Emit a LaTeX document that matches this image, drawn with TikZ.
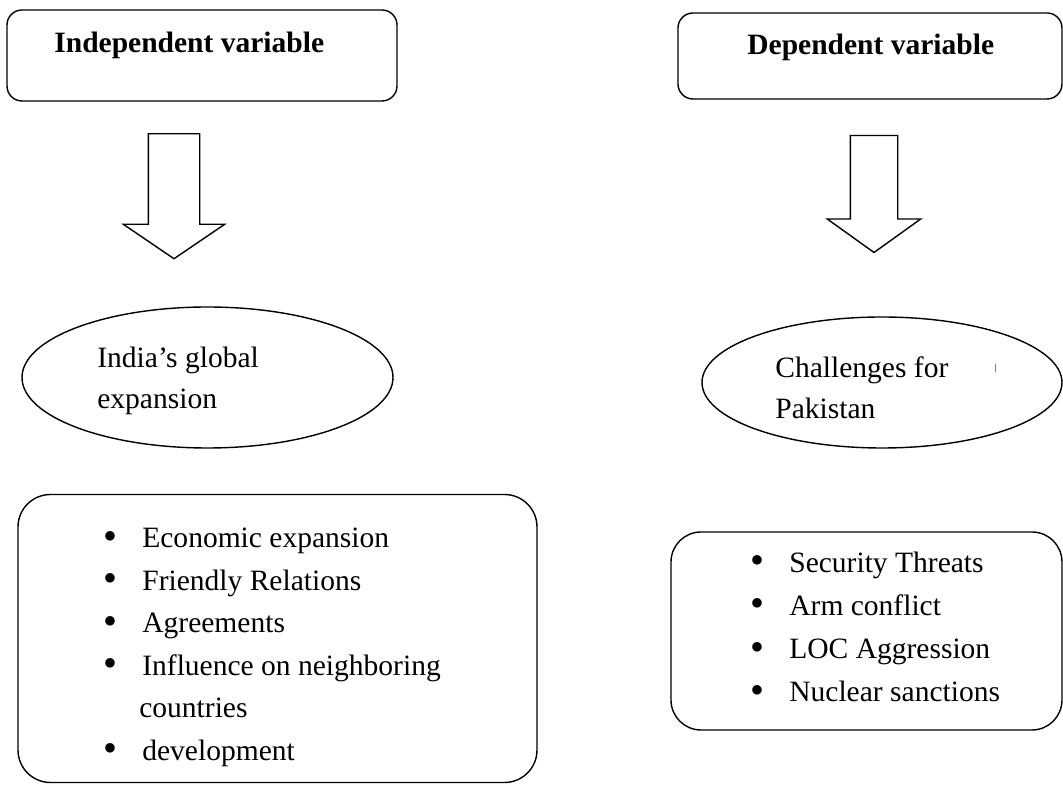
\documentclass[tikz,border=0pt]{standalone}
\usepackage{fontspec}
\setmainfont{Liberation Serif}
\usetikzlibrary{shapes}

\newcommand{\listdot}{\makebox[0.78cm][l]{\raisebox{-0.05em}{\scalebox{1.35}{\textbullet}}}}

\begin{document}
\begin{tikzpicture}[main/.style = {draw, line width=0.8pt, rounded corners=0.3cm},
                    listbox/.style = {draw, line width=0.8pt, rounded corners=0.65cm},
                    oval/.style = {draw, ellipse, line width=0.8pt},
                    head/.style = {anchor=west, inner sep=0pt, font=\fontsize{16.8}{20}\selectfont\bfseries},
                    txt/.style = {anchor=west, inner sep=0pt, align=left, font=\fontsize{16.8}{23}\selectfont},
                    items/.style = {anchor=west, inner sep=0pt, align=left, font=\fontsize{16.8}{24.2}\selectfont},
                    down/.style = {draw, single arrow, rotate=-90, inner xsep=0pt, line width=0.8pt}]
                \useasboundingbox (0, 0) rectangle (21.26, 15.7);

                % top boxes
                \node[main, minimum width=7.8cm, minimum height=1.82cm] at (4.04, 14.59) (indep) {};
                \node[head] at (1.08, 14.8) (indeptext) {Independent variable};
                \node[main, minimum width=7.68cm, minimum height=1.72cm] at (17.4, 14.58) (dep) {};
                \node[head] at (14.94, 14.76) (deptext) {Dependent variable};

                % arrows
                \node[down, inner ysep=0.5cm, minimum height=2.5cm, single arrow head extend=0.5cm,
                      single arrow tip angle=111.6] at (3.48, 11.95) (indeparrow) {};
                \node[down, inner ysep=0.46cm, minimum height=2.34cm, single arrow head extend=0.46cm,
                      single arrow tip angle=108.7] at (17.48, 11.99) (deparrow) {};

                % ellipses
                \node[oval, minimum width=7.42cm, minimum height=2.82cm] at (4.15, 8.15) (india) {};
                \node[txt] at (1.94, 8.08) (indiatext) {India’s global\\expansion};
                \node[oval, minimum width=7.2cm, minimum height=2.62cm] at (17.64, 8.05) (pak) {};
                \node[txt, font=\fontsize{16.8}{23.5}\selectfont] at (15.5, 7.95) (paktext) {Challenges for\\Pakistan};
                \draw[gray, line width=0.5pt] (19.9, 8.26) -- (19.9, 8.42);

                % lists
                \node[listbox, minimum width=10.38cm, minimum height=5.76cm] at (5.55, 2.93) (expansion) {};
                \node[items] at (2.06, 2.75) (expansionlist) {%
                    \listdot Economic expansion\\
                    \listdot Friendly Relations\\
                    \listdot Agreements\\
                    \listdot Influence on neighboring\\
                    \hspace*{0.72cm}countries\\
                    \listdot development};
                \node[listbox, rounded corners=0.6cm, minimum width=7.82cm, minimum height=3.96cm] at (17.33, 3.08) (challenges) {};
                \node[items, font=\fontsize{16.8}{24.5}\selectfont] at (15.0, 3.15) (challengelist) {%
                    \listdot Security Threats\\
                    \listdot Arm conflict\\
                    \listdot LOC Aggression\\
                    \listdot Nuclear sanctions};
            \end{tikzpicture}
\end{document}
